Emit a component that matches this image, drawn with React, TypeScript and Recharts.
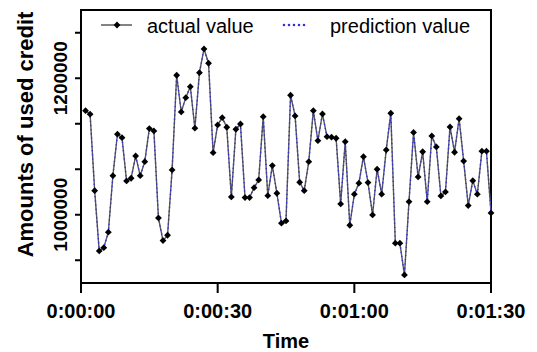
import React from 'react';
import { LineChart, Line, XAxis, YAxis, Legend, ReferenceArea, Label } from 'recharts';

const seconds = [
  1, 2, 3, 4, 5, 6, 7, 8, 9, 10, 11, 12, 13, 14, 15, 16, 17, 18, 19, 20,
  21, 22, 23, 24, 25, 26, 27, 28, 29, 30, 31, 32, 33, 34, 35, 36, 37, 38, 39, 40,
  41, 42, 43, 44, 45, 46, 47, 48, 49, 50, 51, 52, 53, 54, 55, 56, 57, 58, 59, 60,
  61, 62, 63, 64, 65, 66, 67, 68, 69, 70, 71, 72, 73, 74, 75, 76, 77, 78, 79, 80,
  81, 82, 83, 84, 85, 86, 87, 88, 89, 90,
];

const actualValues = [
  1152500, 1147300, 1035300, 947000, 951800, 974400, 1057300, 1118000, 1113000, 1049500,
  1053500, 1086200, 1057300, 1077800, 1126200, 1122800, 995300, 962100, 970000, 1065700,
  1204400, 1150600, 1171600, 1187700, 1126800, 1208200, 1242900, 1222000, 1091000, 1131600,
  1142300, 1128200, 1026100, 1125300, 1133000, 1025100, 1025100, 1039700, 1051000, 1143700,
  1028000, 1072000, 1031500, 987600, 990900, 1175100, 1144800, 1047600, 1035300, 1077800,
  1152500, 1108600, 1147700, 1114400, 1113600, 1112100, 1015900, 1107100, 984600, 1030100,
  1046200, 1085100, 1047100, 999700, 1066700, 1030100, 1095000, 1148700, 958300, 958300,
  911800, 1019200, 1120600, 1055400, 1092300, 1019200, 1115500, 1099400, 1027600, 1033400,
  1128700, 1091600, 1140800, 1078600, 1013400, 1050000, 1030200, 1093100, 1093100, 1002700,
];

const predictionValues = [
  1152000, 1147000, 1035000, 947000, 952000, 974000, 1057000, 1118000, 1113000, 1050000,
  1053000, 1086000, 1057000, 1078000, 1126000, 1123000, 995000, 962000, 970000, 1066000,
  1204000, 1151000, 1172000, 1188000, 1127000, 1208000, 1243000, 1222000, 1091000, 1132000,
  1142000, 1128000, 1026000, 1125000, 1133000, 1025000, 1025000, 1040000, 1051000, 1144000,
  1028000, 1072000, 1032000, 988000, 991000, 1175000, 1145000, 1048000, 1035000, 1078000,
  1152000, 1109000, 1148000, 1114000, 1114000, 1112000, 1016000, 1107000, 985000, 1030000,
  1046000, 1085000, 1047000, 1000000, 1067000, 1030000, 1095000, 1149000, 958000, 958000,
  912000, 1019000, 1121000, 1055000, 1092000, 1019000, 1115000, 1099000, 1028000, 1033000,
  1129000, 1092000, 1141000, 1079000, 1013000, 1050000, 1030000, 1093000, 1093000, 1003000,
];

const xTicks = [0, 30, 60, 90];
const yTicks = [933333, 1000000, 1066667, 1133333, 1200000, 1266667];
const yLabeledTicks = [1000000, 1200000];
const seriesNames = ['actual value', 'prediction value'];

const data = seconds.map((t, i) => ({
  t,
  actual: actualValues[i],
  prediction: predictionValues[i],
}));

const FONT = '"Liberation Sans", Arial, Helvetica, sans-serif';
const ACTUAL_COLOR = '#5a5a5a';
const PRED_COLOR = '#3030e0';

const fmtTime = (s: number) => {
  const m = Math.floor(s / 60);
  const sec = s % 60;
  return `0:${String(m).padStart(2, '0')}:${String(sec).padStart(2, '0')}`;
};

const Diamond = (props: any) => {
  const { cx, cy, index } = props;
  if (cx == null || cy == null) return <g key={`n${index}`} />;
  const r = 3.4;
  return (
    <path
      key={`d${index}`}
      d={`M${cx},${cy - r}L${cx + r},${cy}L${cx},${cy + r}L${cx - r},${cy}Z`}
      fill="#000"
    />
  );
};

const XTick = (props: any) => {
  const { x, payload } = props;
  return (
    <text x={x} y={318} textAnchor="middle" fontFamily={FONT} fontWeight="bold" fontSize={20} fill="#000">
      {fmtTime(payload.value)}
    </text>
  );
};

const YTick = (props: any) => {
  const { y, payload } = props;
  if (!yLabeledTicks.includes(payload.value)) return <g />;
  const bx = 67;
  return (
    <text
      x={bx}
      y={y}
      transform={`rotate(-90, ${bx}, ${y})`}
      textAnchor="middle"
      fontFamily={FONT}
      fontWeight="bold"
      fontSize={19}
      fill="#000"
    >
      {payload.value}
    </text>
  );
};

const LegendContent = () => (
  <svg width={410} height={30} style={{ display: 'block' }}>
    <line x1={20} y1={15} x2={51} y2={15} stroke={ACTUAL_COLOR} strokeWidth={1.5} />
    <path d="M36,11.6L39.4,15L36,18.4L32.6,15Z" fill="#000" />
    <text x={66} y={22.5} fontFamily={FONT} fontSize={20} fill="#000">{seriesNames[0]}</text>
    <line
      x1={203}
      y1={15}
      x2={228}
      y2={15}
      stroke={PRED_COLOR}
      strokeWidth={2.6}
      strokeLinecap="round"
      strokeDasharray="0 5"
    />
    <text x={249} y={22.5} fontFamily={FONT} fontSize={20} fill="#000">{seriesNames[1]}</text>
  </svg>
);

export default function App() {
  return (
    <div style={{ position: 'absolute', left: 0, top: 0, width: 537, height: 352, background: '#fff' }}>
      <LineChart
        width={537}
        height={352}
        data={data}
        margin={{ top: 10, right: 46, bottom: 0, left: 0 }}
      >
        <XAxis
          dataKey="t"
          type="number"
          domain={[0, 90]}
          ticks={xTicks}
          interval={0}
          height={69}
          tickSize={10}
          axisLine={{ stroke: '#000', strokeWidth: 2 }}
          tickLine={{ stroke: '#000', strokeWidth: 2 }}
          tick={<XTick />}
        >
          <Label
            content={(p: any) => {
              const vb = p.viewBox || {};
              return (
                <text
                  x={(vb.x ?? 81) + (vb.width ?? 410) / 2}
                  y={348}
                  textAnchor="middle"
                  fontFamily={FONT}
                  fontWeight="bold"
                  fontSize={20}
                  fill="#000"
                >
                  Time
                </text>
              );
            }}
          />
        </XAxis>
        <YAxis
          type="number"
          domain={[900000, 1300000]}
          ticks={yTicks}
          interval={0}
          width={81}
          tickSize={6}
          axisLine={{ stroke: '#000', strokeWidth: 2 }}
          tickLine={{ stroke: '#000', strokeWidth: 2 }}
          tick={<YTick />}
          allowDataOverflow
        >
          <Label
            content={(p: any) => {
              const vb = p.viewBox || {};
              const cy = (vb.y ?? 10) + (vb.height ?? 273) / 2 - 12;
              const bx = 33;
              return (
                <text
                  x={bx}
                  y={cy}
                  transform={`rotate(-90, ${bx}, ${cy})`}
                  textAnchor="middle"
                  fontFamily={FONT}
                  fontWeight="bold"
                  fontSize={22}
                  fill="#000"
                >
                  Amounts of used credit
                </text>
              );
            }}
          />
        </YAxis>
        <ReferenceArea
          x1={0}
          x2={90}
          y1={900000}
          y2={1300000}
          fill="none"
          fillOpacity={0}
          stroke="#000"
          strokeWidth={2}
          ifOverflow="visible"
        />
        <Legend
          layout="horizontal"
          verticalAlign="middle"
          align="center"
          wrapperStyle={{ position: 'absolute', top: 10, left: 81, width: 410, height: 30 }}
          content={<LegendContent />}
        />
        <Line
          type="linear"
          dataKey="actual"
          name={seriesNames[0]}
          stroke={ACTUAL_COLOR}
          strokeWidth={1.4}
          dot={Diamond}
          activeDot={false}
          isAnimationActive={false}
        />
        <Line
          type="linear"
          dataKey="prediction"
          name={seriesNames[1]}
          stroke={PRED_COLOR}
          strokeWidth={1.6}
          strokeLinecap="round"
          strokeDasharray="0 4.2"
          dot={false}
          activeDot={false}
          isAnimationActive={false}
        />
      </LineChart>
    </div>
  );
}
